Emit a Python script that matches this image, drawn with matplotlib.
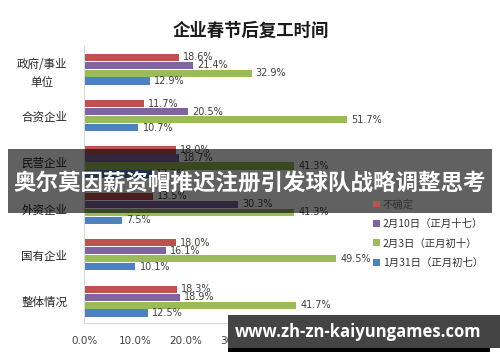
import matplotlib
matplotlib.use("Agg")
import matplotlib.pyplot as plt
from matplotlib.patches import Rectangle
import numpy as np

plt.rcParams['font.family'] = ['Noto Sans CJK SC', 'DejaVu Sans']

categories = ["政府/事业\n单位", "合资企业", "民营企业", "外资企业", "国有企业", "整体情况"]
series_names = ["不确定", "2月10日（正月十七）", "2月3日（正月初十）", "1月31日（正月初七）"]
uncertain = [18.6, 11.7, 18.0, 13.5, 18.0, 18.3]
feb10 = [21.4, 20.5, 18.7, 30.3, 16.1, 18.9]
feb3 = [32.9, 51.7, 41.3, 41.3, 49.5, 41.7]
jan31 = [12.9, 10.7, 13.3, 7.5, 10.1, 12.5]
xticks = [0, 10, 20, 30, 40, 50, 60]
colors = ["#C0504D", "#8064A2", "#9BBB59", "#4F81BD"]

title = "企业春节后复工时间"
banner = "奥尔莫因薪资帽推迟注册引发球队战略调整思考"
watermark = "www.zh-zn-kaiyungames.com"

W, H = 500, 362
fig = plt.figure(figsize=(5, 3.62), dpi=100)
fig.patch.set_facecolor("white")
ax = fig.add_axes([84 / W, 1 - 323 / H, (389.6 - 84) / W, (323 - 46) / H])

y = np.arange(len(categories))
h = 0.172
data = [uncertain, feb10, feb3, jan31]
for k, (vals, col, name) in enumerate(zip(data, colors, series_names)):
    pos = y + (k - 1.5) * h
    ax.barh(pos, vals, height=h * 0.92, color=col, label=name)
    for p, v in zip(pos, vals):
        ax.text(v + 0.8, p, f"{v:.1f}%", va="center", ha="left",
                fontsize=7, color="#404040", family="DejaVu Sans")

ax.set_ylim(5.47, -0.5)
ax.set_xlim(0, 60)
ax.set_xticks(xticks)
ax.set_xticklabels([f"{t:.1f}%" for t in xticks], fontsize=7.5, color="#404040",
                   family="DejaVu Sans")
ax.set_yticks(y)
ax.set_yticklabels(categories, fontsize=8.3, color="#262626", linespacing=1.5,
                   multialignment="center")
ax.tick_params(axis="both", length=0)
ax.tick_params(axis="x", pad=9)
ax.tick_params(axis="y", pad=12)
for s in ["top", "right"]:
    ax.spines[s].set_visible(False)
for s in ["left", "bottom"]:
    ax.spines[s].set_color("#d9d9d9")
    ax.spines[s].set_linewidth(0.8)

leg = fig.legend(loc="upper left", bbox_to_anchor=(364 / W, 1 - 190 / H),
                 frameon=False, fontsize=7.5, handlelength=0.6, handleheight=0.6,
                 handletextpad=0.3, labelspacing=0.9)
for t in leg.get_texts():
    t.set_color("#333333")

fig.text(251 / W, 1 - 31 / H, title, ha="center", va="center",
         fontsize=12.5, fontweight="bold", color="#1a1a1a")

# banner overlay
fig.patches.append(Rectangle((8 / W, 1 - 213 / H), 484 / W, 64 / H,
                             transform=fig.transFigure, facecolor="black",
                             alpha=0.62, edgecolor="none", zorder=5))
fig.text(250 / W, 1 - 183 / H, banner, ha="center", va="center", fontsize=16.2,
         fontweight="bold", color="white", zorder=6)

# watermark overlay
fig.patches.append(Rectangle((228 / W, 1 - 348 / H), 272 / W, 33 / H,
                             transform=fig.transFigure, facecolor="#444444",
                             edgecolor="none", zorder=5))
fig.patches.append(Rectangle((228 / W, 1 - 352 / H), 262 / W, 4 / H,
                             transform=fig.transFigure, facecolor="black",
                             edgecolor="none", zorder=5))
fig.text(358 / W, 1 - 332 / H, watermark, ha="center", va="center", fontsize=12,
         fontweight="bold", color="white", zorder=6, family=["Open Sans", "DejaVu Sans"])

fig.savefig("out.png", dpi=100)
